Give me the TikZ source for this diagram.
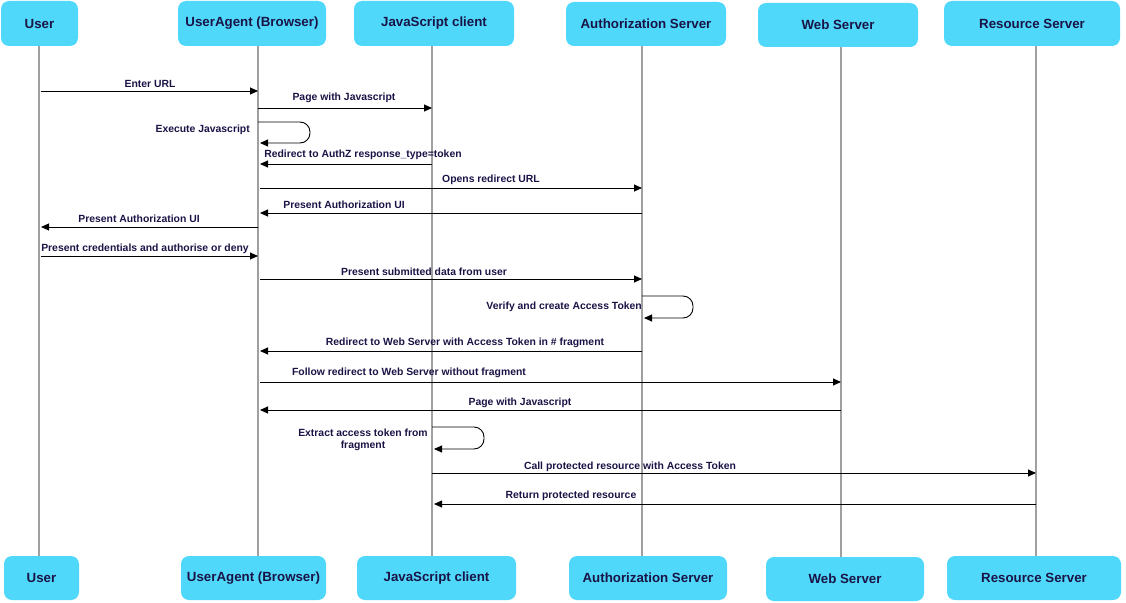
\documentclass[tikz,border=0pt]{standalone}
\usepackage{fontspec}
\setmainfont{Liberation Sans}
\usetikzlibrary{arrows.meta}
\definecolor{boxcyan}{HTML}{4FD8FA}
\definecolor{navy}{HTML}{1A1446}
\definecolor{lifegray}{HTML}{A0A0A0}
\tikzset{
  actor/.style={rounded corners=8pt, fill=boxcyan, draw=none, text=navy,
    font=\fontsize{13.3}{15}\selectfont\bfseries, inner sep=0pt},
  life/.style={draw=lifegray, line width=1.8pt},
  msg/.style={draw=black, line width=0.9pt, -{Triangle[length=8pt,width=7pt]}},
  selfmsg/.style={msg, rounded corners=10pt},
  lbl/.style={text=navy, font=\fontsize{10.4}{12.5}\selectfont\bfseries, inner sep=0pt, align=center, yshift=-1pt}
}
\begin{document}
\begin{tikzpicture}[x=1pt,y=-1pt]
\useasboundingbox (0,0) rectangle (1126,602);
% top boxes
\node[actor, minimum width=77pt, minimum height=45pt] (tU) at (39.5,23.5) {User};
\node[actor, minimum width=148pt, minimum height=45pt] (tA) at (252,23.5) {UserAgent (Browser)};
\node[actor, minimum width=160pt, minimum height=45pt] (tJ) at (434,23.5) {JavaScript client};
\node[actor, minimum width=160pt, minimum height=44pt] (tZ) at (646,24) {Authorization Server};
\node[actor, minimum width=160pt, minimum height=44pt] (tW) at (838,25) {Web Server};
\node[actor, minimum width=176pt, minimum height=45pt] (tR) at (1032,23.5) {Resource Server};
% bottom boxes
\node[actor, minimum width=75pt, minimum height=44pt] (bU) at (41.5,578) {User};
\node[actor, minimum width=145pt, minimum height=44pt] (bA) at (253.5,578) {UserAgent (Browser)};
\node[actor, minimum width=159pt, minimum height=44pt] (bJ) at (436.5,578) {JavaScript client};
\node[actor, minimum width=158pt, minimum height=44pt] (bZ) at (648,578) {Authorization Server};
\node[actor, minimum width=158pt, minimum height=44pt] (bW) at (845,579) {Web Server};
\node[actor, minimum width=174pt, minimum height=44pt] (bR) at (1034,578) {Resource Server};
% lifeline coordinates
\coordinate (lU) at (39,0);
\coordinate (lA) at (258,0);
\coordinate (lJ) at (432,0);
\coordinate (lZ) at (642,0);
\coordinate (lW) at (841,0);
\coordinate (lR) at (1036,0);
% lifelines
\draw[life] (lU |- tU.south) -- (lU |- bU.north);
\draw[life] (lA |- tA.south) -- (lA |- bA.north);
\draw[life] (lJ |- tJ.south) -- (lJ |- bJ.north);
\draw[life] (lZ |- tZ.south) -- (lZ |- bZ.north);
\draw[life] (lW |- tW.south) -- (lW |- bW.north);
\draw[life] (lR |- tR.south) -- (lR |- bR.north);
% messages
\draw[msg] ([xshift=2pt]lU |- 0,91) -- (lA |- 0,91);
\node[lbl] (m1) at (150,83) {Enter URL};
\draw[msg] (lA |- 0,108) -- (lJ |- 0,108);
\node[lbl] (m2) at (344,97) {Page with Javascript};
\draw[selfmsg] (lA |- 0,122) -- (310,122) -- (310,143) -- ([xshift=2pt]lA |- 0,143);
\node[lbl, anchor=east] (m3) at (250,129) {Execute Javascript};
\draw[msg] (lJ |- 0,164) -- ([xshift=2pt]lA |- 0,164);
\node[lbl] (m4) at (363,154) {Redirect to AuthZ response\_type=token};
\draw[msg] ([xshift=2pt]lA |- 0,188) -- (lZ |- 0,188);
\node[lbl] (m5) at (491,179) {Opens redirect URL};
\draw[msg] (lZ |- 0,213) -- ([xshift=2pt]lA |- 0,213);
\node[lbl] (m6) at (344,204) {Present Authorization UI};
\draw[msg] (lA |- 0,227) -- ([xshift=2pt]lU |- 0,227);
\node[lbl] (m7) at (139,218) {Present Authorization UI};
\draw[msg] ([xshift=2pt]lU |- 0,256) -- (lA |- 0,256);
\node[lbl] (m8) at (145,248) {Present credentials and authorise or deny};
\draw[msg] ([xshift=2pt]lA |- 0,279) -- (lZ |- 0,279);
\node[lbl] (m9) at (424,271) {Present submitted data from user};
\draw[selfmsg] (lZ |- 0,296) -- (693,296) -- (693,318) -- ([xshift=2pt]lZ |- 0,318);
\node[lbl, anchor=east] (m10) at (642,306) {Verify and create Access Token};
\draw[msg] (lZ |- 0,351) -- ([xshift=2pt]lA |- 0,351);
\node[lbl] (m11) at (465,342) {Redirect to Web Server with Access Token in \# fragment};
\draw[msg] ([xshift=2pt]lA |- 0,382) -- (lW |- 0,382);
\node[lbl] (m12) at (409,372) {Follow redirect to Web Server without fragment};
\draw[msg] (lW |- 0,410) -- ([xshift=2pt]lA |- 0,410);
\node[lbl] (m13) at (520,402) {Page with Javascript};
\draw[selfmsg] (lJ |- 0,427) -- (484,427) -- (484,449) -- ([xshift=2pt]lJ |- 0,449);
\node[lbl] (m14) at (363,439) {Extract access token from\\fragment};
\draw[msg] (lJ |- 0,473) -- (lR |- 0,473);
\node[lbl] (m15) at (630,466) {Call protected resource with Access Token};
\draw[msg] (lR |- 0,504) -- ([xshift=2pt]lJ |- 0,504);
\node[lbl] (m16) at (571,495) {Return protected resource};
\end{tikzpicture}
\end{document}
